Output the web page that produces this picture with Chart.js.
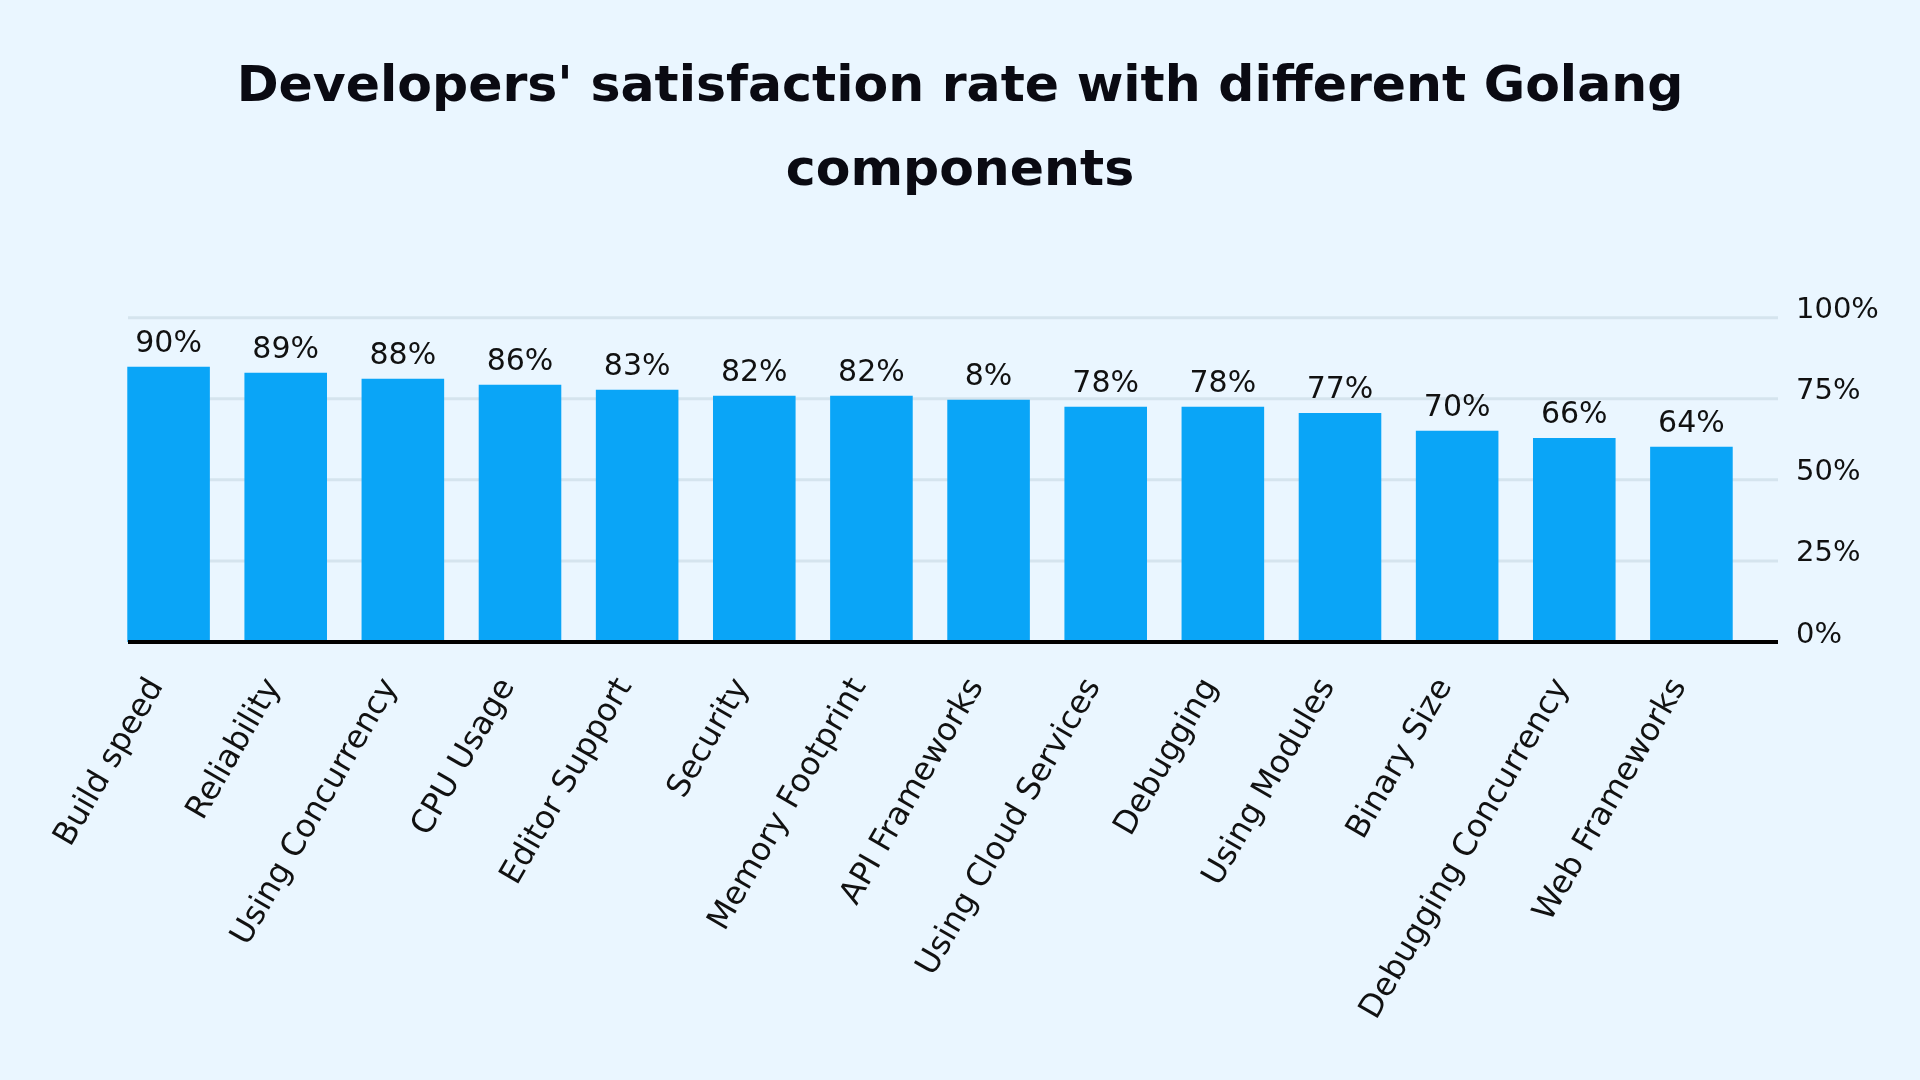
<!DOCTYPE html>
<html>
<head>
<meta charset="utf-8">
<script src="https://cdn.jsdelivr.net/npm/chart.js@4/dist/chart.umd.min.js"></script>
<style>
  body { margin: 0; background: #eaf6ff; }
  canvas { display: block; }
</style>
</head>
<body>
<canvas id="chart" width="1920" height="1080"></canvas>
<script>
// categories, bar heights (read against the 0-100% axis) and the printed labels
const components = ['Build speed', 'Reliability', 'Using Concurrency', 'CPU Usage', 'Editor Support',
  'Security', 'Memory Footprint', 'API Frameworks', 'Using Cloud Services', 'Debugging',
  'Using Modules', 'Binary Size', 'Debugging Concurrency', 'Web Frameworks'];
const barValues = [84.9, 83.0, 81.2, 79.3, 77.8, 75.9, 75.9, 74.7, 72.5, 72.5, 70.6, 65.1, 62.9, 60.2];
const valueLabels = ['90%', '89%', '88%', '86%', '83%', '82%', '82%', '8%', '78%', '78%', '77%', '70%', '66%', '64%'];
const yTicks = [0, 25, 50, 75, 100];

const labelFont = 'DejaVu Sans';

// grid lines + baseline, drawn a bit wider than the bar area like the original
const gridPlugin = {
  id: 'gridLines',
  beforeDatasetsDraw(chart) {
    const ctx = chart.ctx, y = chart.scales.y, a = chart.chartArea;
    ctx.save();
    ctx.strokeStyle = '#d5e4ee';
    ctx.lineWidth = 3;
    yTicks.forEach(t => {
      if (t === 0) return;
      const py = y.getPixelForValue(t);
      ctx.beginPath();
      ctx.moveTo(a.left + 18, py);
      ctx.lineTo(a.right + 28, py);
      ctx.stroke();
    });
    ctx.restore();
  },
  afterDatasetsDraw(chart) {
    const ctx = chart.ctx, y = chart.scales.y, a = chart.chartArea;
    ctx.save();
    ctx.strokeStyle = '#000';
    ctx.lineWidth = 4;
    const py = y.getPixelForValue(0);
    ctx.beginPath();
    ctx.moveTo(a.left + 18, py);
    ctx.lineTo(a.right + 28, py);
    ctx.stroke();

    // value labels above bars
    ctx.fillStyle = '#111';
    ctx.font = '30px "' + labelFont + '"';
    ctx.textAlign = 'center';
    ctx.textBaseline = 'alphabetic';
    chart.getDatasetMeta(0).data.forEach((bar, i) => {
      ctx.fillText(valueLabels[i], bar.x, bar.y - 15);
    });
    ctx.restore();
  }
};

new Chart(document.getElementById('chart'), {
  type: 'bar',
  data: {
    labels: components,
    datasets: [{
      data: barValues,
      yAxisID: 'y',
      backgroundColor: '#0aa5f7',
      borderWidth: 0,
      categoryPercentage: 1,
      barPercentage: 0.705
    }]
  },
  options: {
    responsive: false,
    animation: false,
    layout: { padding: 0 },
    plugins: {
      legend: { display: false },
      tooltip: { enabled: false },
      title: {
        display: true,
        text: ["Developers' satisfaction rate with different Golang", 'components'],
        color: '#0a0a12',
        font: { family: 'DejaVu Sans', size: 50.5, weight: 'bold', lineHeight: 1.68 },
        padding: { top: 45, bottom: 103 }
      }
    },
    scales: {
      x: {
        grid: { display: false },
        border: { display: false },
        ticks: {
          color: '#111',
          font: { family: labelFont, size: 32 },
          minRotation: 60,
          maxRotation: 60,
          padding: 22,
          labelOffset: -12,
          autoSkip: false
        },
        afterFit(scale) { scale.height = 438; }
      },
      y: {
        position: 'right',
        min: 0,
        max: 100,
        grid: { display: false, drawTicks: false },
        border: { display: false },
        ticks: {
          stepSize: 25,
          color: '#111',
          font: { family: labelFont, size: 29 },
          padding: 46,
          labelOffset: -7,
          callback: v => v + '%'
        },
        afterFit(scale) { scale.width = 170; }
      },
      // empty left axis just to reserve the left margin
      spacer: {
        type: 'linear',
        position: 'left',
        min: 0,
        max: 1,
        grid: { display: false },
        border: { display: false },
        ticks: { display: false },
        afterFit(scale) { scale.width = 110; }
      }
    }
  },
  plugins: [gridPlugin]
});
</script>
</body>
</html>
